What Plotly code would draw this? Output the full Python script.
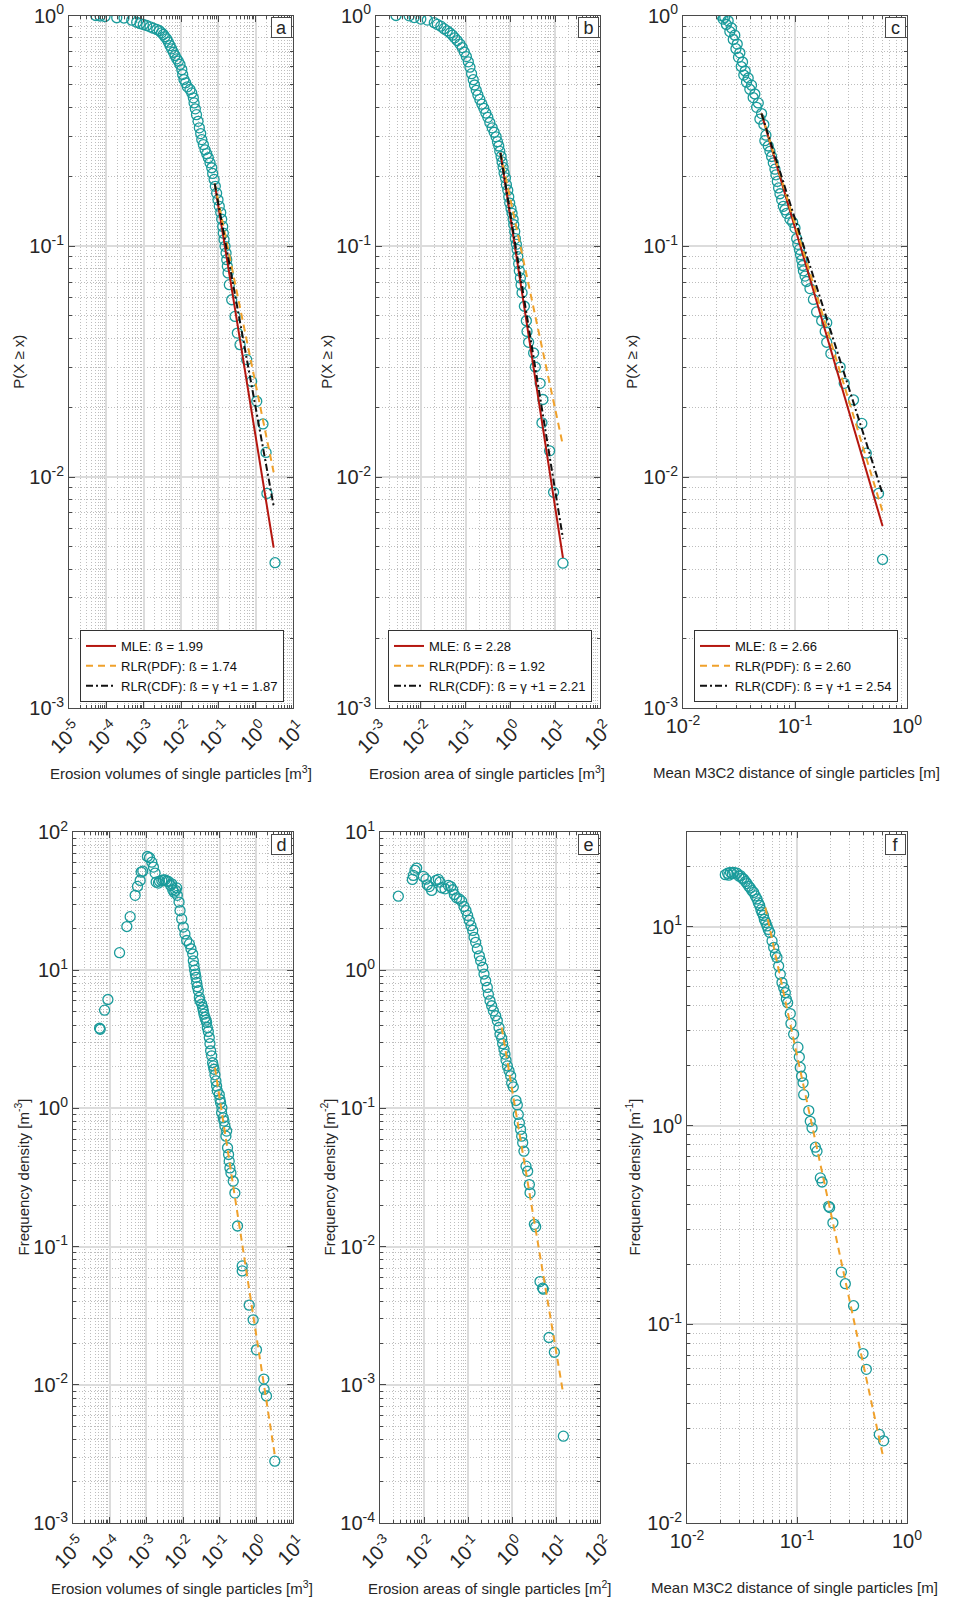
import math
import plotly.graph_objects as go

FONT = "Liberation Sans, Arial, Helvetica, sans-serif"
TEAL = "#1a9b9b"
RED = "#b5160f"
ORANGE = "#f0a12b"
BLACK = "#111111"
AXIS = "#4a4a4a"
TXT = "#262626"

# ---------------- panel a : CCDF of erosion volumes ----------------
a_x = [5.2e-5, 6.8e-5, 9.2e-5, 1.9e-4, 2.97e-4, 4.8e-4, 6.5e-4, 7.98e-4, 9.8e-4, 1.2e-3,
       1.48e-3, 1.81e-3, 2.24e-3, 2.63e-3, 3.0e-3, 3.37e-3, 3.7e-3, 4.14e-3, 4.6e-3, 5.08e-3,
       5.6e-3, 6.24e-3, 6.9e-3, 7.66e-3, 8.5e-3, 9.4e-3, 1.05e-2, 1.11e-2, 1.2e-2, 1.33e-2,
       1.48e-2, 1.74e-2, 1.94e-2, 2.14e-2, 2.24e-2, 2.42e-2, 2.6e-2, 2.86e-2, 3.1e-2, 3.37e-2,
       3.6e-2, 3.97e-2, 4.4e-2, 4.88e-2, 5.4e-2, 5.98e-2, 6.65e-2, 7.05e-2, 7.7e-2, 8.3e-2,
       9.0e-2, 9.8e-2, 0.106, 0.116, 0.123, 0.131, 0.136, 0.142, 0.151, 0.161,
       0.168, 0.174, 0.182, 0.197, 0.228, 0.280, 0.323, 0.381, 0.575, 0.78,
       1.07, 1.57, 1.9, 2.0, 3.3]
a_p = [1.00, 0.995, 0.99, 0.978, 0.975, 0.954, 0.935, 0.923, 0.914, 0.905,
       0.893, 0.881, 0.870, 0.859, 0.841, 0.828, 0.809, 0.792, 0.766, 0.741,
       0.717, 0.693, 0.671, 0.649, 0.634, 0.614, 0.583, 0.555, 0.528, 0.511,
       0.491, 0.478, 0.462, 0.44, 0.418, 0.394, 0.372, 0.348, 0.326, 0.308,
       0.290, 0.276, 0.262, 0.252, 0.242, 0.230, 0.219, 0.207, 0.195, 0.182,
       0.170, 0.159, 0.149, 0.140, 0.131, 0.122, 0.114, 0.107, 0.100, 0.0936,
       0.0875, 0.0819, 0.0767, 0.0682, 0.0587, 0.0497, 0.0421, 0.0375, 0.0323, 0.026,
       0.0213, 0.017, 0.0128, 0.0085, 0.00426]
a_fit_x = [0.080, 3.03]
a_mle_p = [0.187, 0.00495]
a_pdf_p = [0.187, 0.0105]
a_cdf_p = [0.187, 0.0075]
a_beta = ["1.99", "1.74", "1.87"]

# ---------------- panel b : CCDF of erosion areas ----------------
b_x = [2.8e-3, 5.5e-3, 7.1e-3, 1.0e-2, 1.4e-2, 2.0e-2, 2.34e-2, 2.8e-2, 3.3e-2, 3.9e-2,
       4.49e-2, 5.1e-2, 5.7e-2, 6.5e-2, 7.48e-2, 8.4e-2, 9.34e-2, 0.104, 0.115, 0.125,
       0.136, 0.148, 0.158, 0.173, 0.188, 0.208, 0.231, 0.255, 0.283, 0.313,
       0.347, 0.392, 0.434, 0.48, 0.514, 0.55, 0.579, 0.62, 0.653, 0.687,
       0.723, 0.774, 0.815, 0.873, 0.919, 0.966, 1.03, 1.09, 1.15, 1.19,
       1.25, 1.29, 1.36, 1.41, 1.46, 1.53, 1.58, 1.67, 1.73, 1.82,
       2.05, 2.27, 2.35, 2.55, 3.3, 3.6, 4.6, 5.3, 5.06, 7.5, 9.2, 14.9]
b_p = [1.0, 0.997, 0.98, 0.965, 0.955, 0.931, 0.915, 0.899, 0.877, 0.858,
       0.84, 0.822, 0.80, 0.779, 0.752, 0.726, 0.695, 0.664, 0.63, 0.597,
       0.56, 0.527, 0.50, 0.474, 0.452, 0.433, 0.413, 0.396, 0.378, 0.362,
       0.344, 0.326, 0.312, 0.298, 0.284, 0.272, 0.258, 0.245, 0.232, 0.220,
       0.208, 0.198, 0.185, 0.175, 0.164, 0.154, 0.146, 0.139, 0.131, 0.124,
       0.116, 0.108, 0.102, 0.097, 0.0903, 0.084, 0.0783, 0.073, 0.068, 0.063,
       0.055, 0.0476, 0.0428, 0.0384, 0.0345, 0.030, 0.0255, 0.0217, 0.0172, 0.0130, 0.0086, 0.00424]
b_fit_x = [0.60, 14.9]
b_mle_p = [0.254, 0.00447]
b_pdf_p = [0.254, 0.0137]
b_cdf_p = [0.254, 0.00542]
b_beta = ["2.28", "1.92", "2.21"]

# ---------------- panel c : CCDF of mean M3C2 distance ----------------
c_x = [0.0220, 0.0228, 0.0236, 0.0244, 0.0253, 0.0262, 0.0271, 0.0281, 0.029, 0.0297,
       0.0305, 0.0313, 0.0322, 0.0331, 0.034, 0.0349, 0.0359, 0.0369, 0.0382, 0.0395,
       0.0409, 0.0423, 0.0438, 0.0454, 0.047, 0.0486, 0.0503, 0.0527, 0.0538, 0.055,
       0.0577, 0.0597, 0.0618, 0.064, 0.0662, 0.0676, 0.0695, 0.0714, 0.0734, 0.076,
       0.0787, 0.0813, 0.0842, 0.0902, 0.0953, 0.1, 0.1035, 0.106, 0.1094, 0.112,
       0.1148, 0.117, 0.1188, 0.123, 0.127, 0.136, 0.146, 0.156, 0.173, 0.192,
       0.186, 0.192, 0.209, 0.253, 0.275, 0.333, 0.395, 0.433, 0.557, 0.605]
c_p = [1.0, 0.965, 0.982, 0.914, 0.948, 0.852, 0.883, 0.787, 0.822, 0.718,
       0.752, 0.659, 0.689, 0.601, 0.629, 0.552, 0.575, 0.514, 0.536, 0.479,
       0.499, 0.441, 0.457, 0.40, 0.418, 0.356, 0.376, 0.337, 0.287, 0.303,
       0.272, 0.258, 0.245, 0.23, 0.216, 0.204, 0.191, 0.179, 0.169, 0.159,
       0.149, 0.144, 0.139, 0.131, 0.127, 0.120, 0.108, 0.102, 0.097, 0.092,
       0.0871, 0.0826, 0.0783, 0.0743, 0.0704, 0.0656, 0.0589, 0.052, 0.0476, 0.0467,
       0.0428, 0.0384, 0.0343, 0.030, 0.0255, 0.0216, 0.0171, 0.0127, 0.0085, 0.0044]
c_fit_x = [0.0502, 0.605]
c_mle_p = [0.376, 0.00614]
c_pdf_p = [0.376, 0.0071]
c_cdf_p = [0.376, 0.00846]
c_beta = ["2.66", "2.60", "2.54"]

# ---------------- panel d : frequency density of volumes ----------------
d_x = [5.31e-5, 5.53e-5, 7.26e-5, 8.95e-5, 1.86e-4, 2.94e-4, 3.62e-4, 4.95e-4, 5.74e-4, 6.78e-4,
       7.22e-4, 8.0e-4, 1.07e-3, 1.22e-3, 1.41e-3, 1.56e-3, 1.73e-3, 1.85e-3, 2.14e-3, 2.28e-3,
       2.64e-3, 2.92e-3, 3.25e-3, 3.6e-3, 4.0e-3, 4.63e-3, 4.93e-3, 5.25e-3, 5.7e-3, 6.3e-3,
       6.74e-3, 7.0e-3, 7.8e-3, 8.3e-3, 9.2e-3, 1.02e-2, 1.13e-2, 1.26e-2, 1.49e-2, 1.65e-2,
       1.84e-2, 1.91e-2, 2.0e-2, 2.08e-2, 2.17e-2, 2.26e-2, 2.36e-2, 2.46e-2, 2.62e-2, 2.79e-2,
       2.9e-2, 3.23e-2, 3.43e-2, 3.58e-2, 3.73e-2, 3.97e-2, 4.23e-2, 4.41e-2, 4.6e-2, 4.9e-2,
       5.21e-2, 5.44e-2, 5.67e-2, 6.04e-2, 6.42e-2, 6.7e-2, 6.99e-2, 7.43e-2, 7.91e-2, 8.26e-2,
       8.61e-2, 9.75e-2, 0.102, 0.106, 0.113, 0.115, 0.125, 0.131, 0.139, 0.148,
       0.155, 0.164, 0.175, 0.182, 0.19, 0.203, 0.234, 0.26, 0.307, 0.412,
       0.412, 0.638, 0.82, 1.01, 1.6, 1.63, 1.89, 3.19]
d_y = [3.80, 3.74, 5.14, 6.14, 13.4, 20.7, 24.4, 34.8, 40.4, 44.6,
       51.3, 52.1, 66.5, 65.1, 60.5, 55.7, 50.4, 43.4, 42.7, 44.1,
       44.6, 45.1, 45.1, 44.1, 43.9, 41.0, 42.2, 38.2, 36.7, 37.8,
       39.4, 34.8, 31.1, 27.0, 23.5, 20.5, 18.3, 16.4, 15.5, 14.3,
       13.1, 11.7, 10.8, 10.0, 9.38, 8.87, 8.16, 7.59, 7.1, 6.35,
       6.01, 5.69, 5.37, 5.09, 4.81, 4.55, 4.35, 4.19, 3.85, 3.6,
       3.26, 2.94, 2.61, 2.40, 2.14, 2.03, 1.92, 1.75, 1.58, 1.45,
       1.34, 1.26, 1.16, 1.10, 0.931, 1.01, 0.855, 0.81, 0.745, 0.63,
       0.685, 0.519, 0.464, 0.415, 0.371, 0.341, 0.297, 0.244, 0.141, 0.0725,
       0.0667, 0.0377, 0.0295, 0.0179, 0.0110, 0.0093, 0.0083, 0.0028]
d_fit_x = [0.0743, 3.25]
d_fit_y = [1.97, 0.0030]

# ---------------- panel e : frequency density of areas ----------------
e_x = [2.61e-3, 5.43e-3, 5.72e-3, 6.24e-3, 6.81e-3, 9.66e-3, 1.11e-2, 1.19e-2, 1.32e-2, 1.49e-2,
       1.87e-2, 2.12e-2, 2.31e-2, 2.52e-2, 3.0e-2, 3.57e-2, 4.04e-2, 4.49e-2, 4.89e-2, 5.52e-2,
       6.35e-2, 7.18e-2, 8.11e-2, 9.0e-2, 9.82e-2, 0.107, 0.117, 0.128, 0.137, 0.149,
       0.163, 0.181, 0.194, 0.216, 0.231, 0.252, 0.275, 0.29, 0.316, 0.345,
       0.377, 0.426, 0.464, 0.507, 0.534, 0.582, 0.614, 0.658, 0.693, 0.731,
       0.784, 0.855, 0.933, 0.982, 1.07, 1.23, 1.32, 1.39, 1.47, 1.57,
       1.66, 1.75, 1.87, 2.08, 2.27, 2.48, 2.57, 3.22, 3.45, 4.33,
       4.97, 5.15, 6.93, 9.17, 14.7]
e_y = [3.43, 4.54, 4.85, 5.28, 5.48, 4.77, 4.56, 4.15, 4.03, 3.78,
       4.46, 4.54, 4.34, 3.95, 3.88, 4.11, 4.03, 3.82, 3.53, 3.34,
       3.28, 3.16, 2.89, 2.70, 2.49, 2.29, 2.10, 1.94, 1.73, 1.59,
       1.43, 1.27, 1.17, 1.05, 0.938, 0.839, 0.751, 0.671, 0.601, 0.553,
       0.508, 0.468, 0.43, 0.385, 0.344, 0.322, 0.294, 0.268, 0.247, 0.223,
       0.203, 0.187, 0.172, 0.153, 0.143, 0.114, 0.106, 0.0904, 0.0787, 0.0705,
       0.063, 0.0564, 0.049, 0.0382, 0.0351, 0.0281, 0.0245, 0.0145, 0.0139, 0.00558,
       0.0050, 0.00492, 0.0022, 0.00172, 0.000425]
e_fit_x = [0.582, 14.2]
e_fit_y = [0.385, 0.000908]

# ---------------- panel f : frequency density of M3C2 distance ----------------
f_x = [0.0223, 0.0234, 0.0240, 0.0248, 0.0258, 0.0266, 0.0285, 0.0296, 0.0305, 0.0316,
       0.0327, 0.0340, 0.0351, 0.0364, 0.0376, 0.0390, 0.0404, 0.0418, 0.0433, 0.0445,
       0.0458, 0.0470, 0.0481, 0.0495, 0.0505, 0.0520, 0.0534, 0.0548, 0.0565, 0.0593,
       0.0614, 0.0636, 0.0658, 0.0681, 0.0705, 0.073, 0.0757, 0.0783, 0.08, 0.0822,
       0.0869, 0.0881, 0.0932, 0.102, 0.105, 0.107, 0.110, 0.1135, 0.115, 0.128,
       0.132, 0.137, 0.147, 0.152, 0.163, 0.169, 0.194, 0.198, 0.212, 0.253,
       0.275, 0.327, 0.398, 0.427, 0.56, 0.613]
f_y = [18.3, 18.6, 18.2, 18.8, 18.5, 18.8, 18.6, 18.0, 18.1, 17.6,
       17.4, 16.9, 16.5, 16.0, 15.7, 15.2, 14.9, 14.3, 13.8, 13.2,
       12.8, 12.2, 11.8, 11.4, 10.9, 10.5, 10.1, 9.7, 9.36, 8.49,
       7.87, 7.28, 7.0, 6.35, 5.77, 5.24, 4.94, 4.66, 4.32, 4.15,
       3.66, 3.26, 2.88, 2.48, 2.21, 1.96, 1.77, 1.64, 1.43, 1.19,
       1.05, 0.973, 0.778, 0.743, 0.545, 0.52, 0.392, 0.387, 0.324, 0.183,
       0.16, 0.124, 0.0712, 0.0593, 0.0279, 0.0259]
f_fit_x = [0.0515, 0.605]
f_fit_y = [12.5, 0.0217]

# ---------------- axis / label texts ----------------
x_titles = ["Erosion volumes of single particles [m<sup>3</sup>]",
            "Erosion area of single particles [m<sup>3</sup>]",
            "Mean M3C2 distance of single particles [m]",
            "Erosion volumes of single particles [m<sup>3</sup>]",
            "Erosion areas of single particles [m<sup>2</sup>]",
            "Mean M3C2 distance of single particles [m]"]
y_titles = ["P(X ≥ x)", "P(X ≥ x)", "P(X ≥ x)",
            "Frequency density [m<sup>-3</sup>]",
            "Frequency density [m<sup>-2</sup>]",
            "Frequency density [m<sup>-1</sup>]"]
panel_letters = ["a", "b", "c", "d", "e", "f"]

W, H = 955, 1598

def px_x(v):
    return v / W

def px_y(v):
    return 1 - v / H

# layout geometry (pixels)
geo = [
    dict(xd=(69, 293), yd=(15.5, 708), xr=(-5, 1), yr=(-3, 0), ang=-45, xt=181, yt=19),
    dict(xd=(376, 600), yd=(15.5, 708), xr=(-3, 2), yr=(-3, 0), ang=-45, xt=487, yt=327),
    dict(xd=(683, 907), yd=(15.5, 708), xr=(-2, 0), yr=(-3, 0), ang=0, xt=796, yt=632),
    dict(xd=(73, 293), yd=(832, 1523), xr=(-5, 1), yr=(-3, 2), ang=-45, xt=182, yt=22),
    dict(xd=(380, 600), yd=(832, 1523), xr=(-3, 2), yr=(-4, 1), ang=-45, xt=489, yt=328),
    dict(xd=(687, 907), yd=(832, 1523), xr=(-2, 0), yr=(-2, math.log10(30)), ang=0, xt=794, yt=633),
]


def minor_vals(lo, hi):
    vals = []
    for k in range(math.floor(lo) - 1, math.ceil(hi) + 1):
        for m in range(2, 10):
            v = m * 10.0 ** k
            lv = math.log10(v)
            if lo - 1e-9 <= lv <= hi + 1e-9:
                vals.append(v)
    return vals


def log_axis(rng, angle, dom, anchor, shift=0):
    exps = list(range(math.ceil(rng[0] - 1e-9), math.floor(rng[1] + 1e-9) + 1))
    ax = dict(
        type="log", range=list(rng), domain=dom, anchor=anchor, automargin=False,
        tickmode="array", tickvals=[10.0 ** k for k in exps],
        ticktext=[f"10<sup>{k}</sup>" for k in exps], tickangle=angle,
        ticks="inside", ticklen=6, tickwidth=1, tickcolor=AXIS,
        showline=True, linecolor=AXIS, linewidth=1, mirror="ticks",
        showgrid=True, gridcolor="#dcdcdc", gridwidth=1.6,
        zeroline=False,
        minor=dict(tickmode="array", tickvals=minor_vals(*rng), ticks="inside",
                   ticklen=3, tickwidth=1, tickcolor=AXIS, showgrid=True,
                   gridcolor="#bdbdbd", griddash="1px,2px", gridwidth=1),
        tickfont=dict(family=FONT, size=20, color=TXT),
    )
    if shift:
        ax["ticklabelshift"] = shift
    return ax


fig = go.Figure()

scatter_data = [(a_x, a_p), (b_x, b_p), (c_x, c_p), (d_x, d_y), (e_x, e_y), (f_x, f_y)]
ccdf_fits = [(a_fit_x, a_mle_p, a_pdf_p, a_cdf_p, a_beta),
             (b_fit_x, b_mle_p, b_pdf_p, b_cdf_p, b_beta),
             (c_fit_x, c_mle_p, c_pdf_p, c_cdf_p, c_beta)]
pdf_fits = [(d_fit_x, d_fit_y), (e_fit_x, e_fit_y), (f_fit_x, f_fit_y)]
legend_names = ["legend", "legend2", "legend3"]
legend_left = [80, 388, 694]

layout = dict(width=W, height=H, autosize=False,
              margin=dict(l=0, r=0, t=0, b=0, pad=0, autoexpand=False),
              paper_bgcolor="white", plot_bgcolor="white", showlegend=True,
              font=dict(family=FONT, color=TXT))
annotations = []

for i, g in enumerate(geo):
    n = "" if i == 0 else str(i + 1)
    xa, ya = "x" + n, "y" + n
    xdom = [px_x(g["xd"][0]), px_x(g["xd"][1])]
    ydom = [px_y(g["yd"][1]), px_y(g["yd"][0])]
    layout["xaxis" + n] = log_axis(g["xr"], g["ang"], xdom, ya, shift=7 if g["ang"] else 0)
    layout["yaxis" + n] = log_axis(g["yr"], 0, ydom, xa)

    sx, sy = scatter_data[i]
    fig.add_trace(go.Scatter(x=sx, y=sy, mode="markers", xaxis=xa, yaxis=ya,
                             showlegend=False, hoverinfo="skip",
                             marker=dict(symbol="circle-open", size=10, color=TEAL,
                                         line=dict(color=TEAL, width=1.3))))
    if i < 3:
        fx, mle, pdf, cdf, beta = ccdf_fits[i]
        lg = legend_names[i]
        fig.add_trace(go.Scatter(x=fx, y=mle, mode="lines", xaxis=xa, yaxis=ya, legend=lg,
                                 name=f"MLE: ß = {beta[0]}", line=dict(color=RED, width=2)))
        fig.add_trace(go.Scatter(x=fx, y=pdf, mode="lines", xaxis=xa, yaxis=ya, legend=lg,
                                 name=f"RLR(PDF): ß = {beta[1]}",
                                 line=dict(color=ORANGE, width=2, dash="7px,5px")))
        fig.add_trace(go.Scatter(x=fx, y=cdf, mode="lines", xaxis=xa, yaxis=ya, legend=lg,
                                 name=f"RLR(CDF): ß = γ +1 = {beta[2]}",
                                 line=dict(color=BLACK, width=2, dash="7px,3px,2px,3px")))
        layout[lg] = dict(x=px_x(legend_left[i]), y=px_y(630), xanchor="left", yanchor="top",
                          xref="paper", yref="paper",
                          bgcolor="white", bordercolor="#333333", borderwidth=1,
                          font=dict(family=FONT, size=13, color="#111111"),
                          tracegroupgap=0, itemwidth=30)
    else:
        fx, fy = pdf_fits[i - 3]
        fig.add_trace(go.Scatter(x=fx, y=fy, mode="lines", xaxis=xa, yaxis=ya,
                                 showlegend=False, hoverinfo="skip",
                                 line=dict(color=ORANGE, width=2, dash="7px,5px")))

    # panel letter
    annotations.append(dict(text=panel_letters[i], xref=xa + " domain", yref=ya + " domain",
                            x=1, y=1, xanchor="right", yanchor="top", showarrow=False,
                            xshift=-1, yshift=-2, width=19, height=19, align="center",
                            valign="middle",
                            font=dict(family=FONT, size=18, color=TXT),
                            bgcolor="white", bordercolor=AXIS, borderwidth=1, borderpad=0))
    # x title
    xt_y = 772 if i < 3 else 1587
    annotations.append(dict(text=x_titles[i], xref="paper", yref="paper",
                            x=px_x(g["xt"]), y=px_y(xt_y), xanchor="center", yanchor="middle",
                            showarrow=False, font=dict(family=FONT, size=15, color=TXT)))
    # y title
    yt_c = (g["yd"][0] + g["yd"][1]) / 2
    annotations.append(dict(text=y_titles[i], xref="paper", yref="paper",
                            x=px_x(g["yt"]), y=px_y(yt_c), xanchor="center", yanchor="middle",
                            textangle=-90, showarrow=False,
                            font=dict(family=FONT, size=15, color=TXT)))

layout["annotations"] = annotations
fig.update_layout(**layout)
fig.write_html(
    "out.html",
    config={"displayModeBar": False, "staticPlot": False},
    post_script="document.body.style.margin='0';document.body.style.padding='0';"
                "document.body.style.overflow='hidden';",
)
